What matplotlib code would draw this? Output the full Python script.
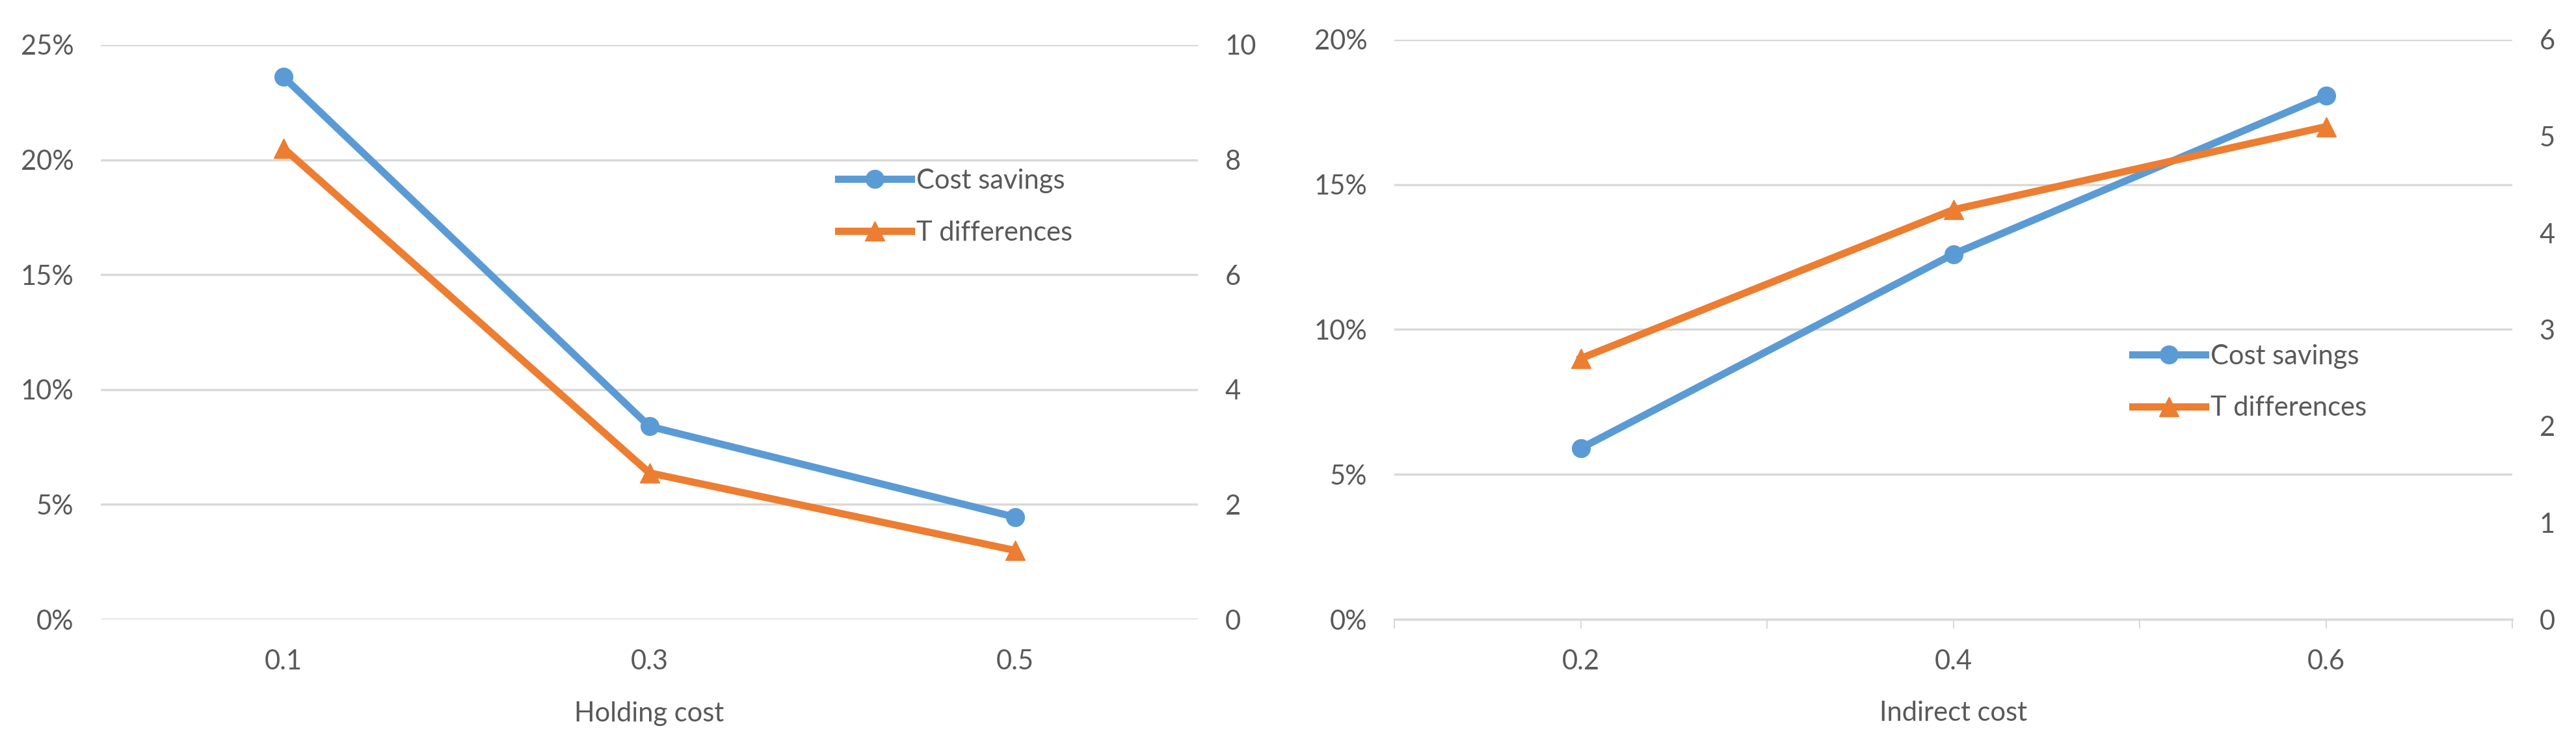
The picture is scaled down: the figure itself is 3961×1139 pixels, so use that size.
import matplotlib.pyplot as plt
from matplotlib.ticker import FuncFormatter, FixedLocator

# left panel: holding cost
holding_cost = [0.1, 0.3, 0.5]
holding_savings = [23.6, 8.4, 4.45]     # percent
holding_tdiff = [8.2, 2.55, 1.2]

# right panel: indirect cost
indirect_cost = [0.2, 0.4, 0.6]
indirect_savings = [5.9, 12.6, 18.07]   # percent
indirect_tdiff = [2.7, 4.24, 5.1]

BLUE = '#5B9BD5'
ORANGE = '#ED7D31'
GRID = '#D9D9D9'
TEXT = '#595959'
FS = 30

plt.rcParams['font.family'] = ['Lato', 'DejaVu Sans']

W, H = 3961, 1139
fig = plt.figure(figsize=(W / 100, H / 100), dpi=100)


def panel(rect, x, savings, tdiff, xlim, ylim, ystep, y2lim, y2step, xlabel,
          legend_pos, xticks_all=None):
    ax = fig.add_axes(rect)
    ax2 = ax.twinx()
    ax.set_xlim(*xlim)
    ax.set_ylim(*ylim)
    ax2.set_ylim(*y2lim)
    ax.set_yticks([i * ystep for i in range(int(ylim[1] / ystep) + 1)])
    ax2.set_yticks([i * y2step for i in range(int(y2lim[1] / y2step) + 1)])
    ax.yaxis.set_major_formatter(FuncFormatter(lambda v, p: '{:.0f}%'.format(v)))
    ax.grid(axis='y', color=GRID, lw=2.5)
    ax.set_axisbelow(True)
    for a in (ax, ax2):
        for s in a.spines.values():
            s.set_visible(False)
        a.tick_params(axis='y', length=0, labelsize=FS, labelcolor=TEXT, pad=30)
    ax.set_xticks(x)
    ax.set_xticklabels([str(v) for v in x])
    if xticks_all is not None:
        ax.spines['bottom'].set_visible(True)
        ax.spines['bottom'].set_color(GRID)
        ax.spines['bottom'].set_linewidth(2.5)
        ax.xaxis.set_minor_locator(FixedLocator(xticks_all))
        ax.tick_params(axis='x', which='both', length=10, width=1.5, color=GRID,
                       labelsize=FS, labelcolor=TEXT, pad=23)
    else:
        ax.tick_params(axis='x', length=0, labelsize=FS, labelcolor=TEXT, pad=33)
    ax.set_xlabel(xlabel, fontsize=FS, color=TEXT, labelpad=30)

    l1, = ax.plot(x, savings, color=BLUE, lw=8, marker='o', ms=20,
                  label='Cost savings', zorder=3, clip_on=False)
    l2, = ax2.plot(x, tdiff, color=ORANGE, lw=8, marker='^', ms=22,
                   label='T differences', zorder=3, clip_on=False)
    ax2.legend(handles=[l1, l2], loc='upper left', bbox_to_anchor=legend_pos,
               frameon=False, fontsize=FS, labelcolor=TEXT, handlelength=2.7,
               handletextpad=0.2, labelspacing=1.0, numpoints=1, borderpad=0,
               borderaxespad=0)
    return ax


panel([155 / W, 187 / H, 1687 / W, 883 / H], holding_cost, holding_savings,
      holding_tdiff, (0.0, 0.6), (0, 25), 5, (0, 10), 2, 'Holding cost',
      (0.672, 0.785))
panel([2144 / W, 187 / H, 1719 / W, 891 / H], indirect_cost, indirect_savings,
      indirect_tdiff, (0.1, 0.7), (0, 20), 5, (0, 6), 1, 'Indirect cost',
      (0.66, 0.475), xticks_all=[0.1, 0.3, 0.5, 0.7])

fig.savefig('out.png', dpi=100, facecolor='white')
